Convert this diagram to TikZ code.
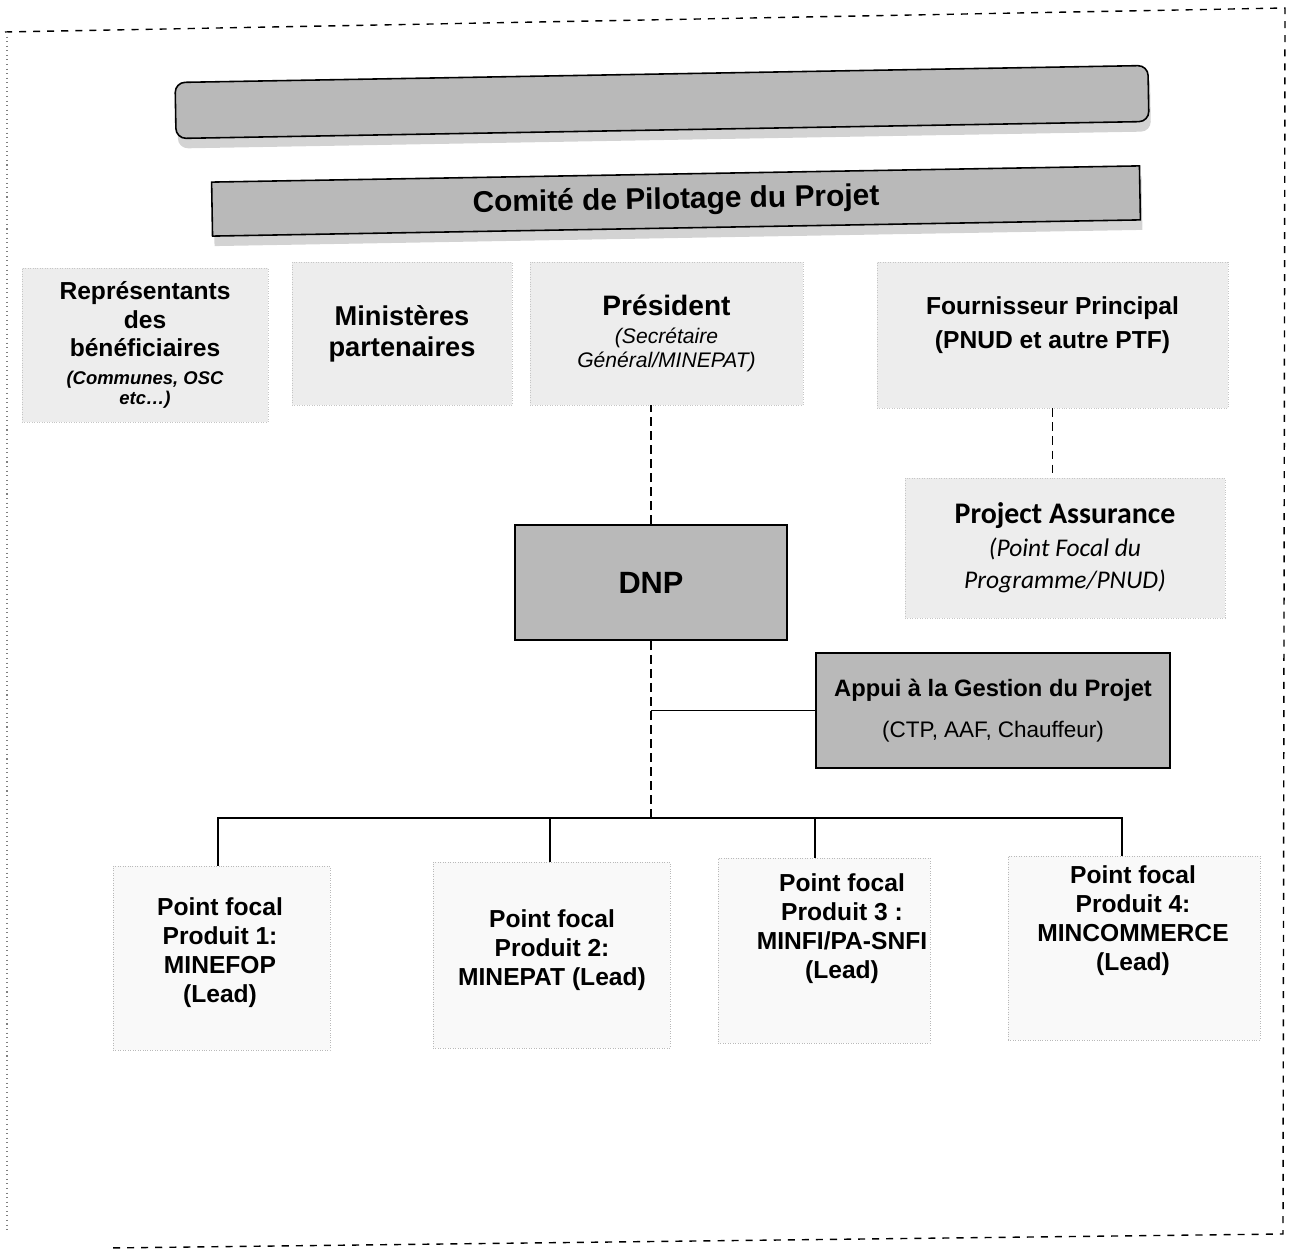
\documentclass[tikz,border=0pt]{standalone}
\usepackage{fontspec}
\setmainfont{Liberation Sans}
\newfontfamily\calibri{Carlito}
\usetikzlibrary{shadows,calc}
\newcommand\repsmall{\bfseries\itshape\fontsize{10.5}{11.5}\selectfont}
\newcommand\presit{\itshape\fontsize{12}{14}\selectfont}
\newcommand\pait{\itshape\fontsize{14.5}{18}\selectfont}
\newcommand\appuireg{\mdseries\fontsize{12.8}{15}\selectfont}
\tikzset{
  darkbox/.style={draw=black, line width=0.9pt, fill=gray!55, inner sep=0pt, align=center},
  barbox/.style={darkbox, rotate=1},
  lightbox/.style={draw=gray!45, densely dotted, fill=gray!14, inner sep=0pt, align=center},
  pfbox/.style={draw=gray!55, densely dotted, fill=gray!5, inner sep=0pt},
  pftext/.style={align=center, font=\bfseries\fontsize{14}{16.5}\selectfont},
  dashline/.style={line width=0.7pt, dash pattern=on 5pt off 3pt},
  solidline/.style={line width=1pt},
  frameline/.style={line width=0.8pt, dash pattern=on 4pt off 4pt},
  barshadow/.style={drop shadow={shadow xshift=0.04cm, shadow yshift=-0.2cm, opacity=0.35}},
}
\begin{document}
\begin{tikzpicture}
\useasboundingbox (0,0) rectangle (25.8,-25.04);
% outer frame
\draw[frameline] (0.1,-0.64) -- (25.7,-0.16) -- (25.66,-24.68) -- (2.16,-24.96);
\draw[gray, line width=0.6pt, dotted] (0.14,-0.64) -- (0.14,-24.6);

% top bars
\node[barbox, barshadow, rounded corners=0.2cm, minimum width=19.46cm, minimum height=1.12cm] (top) at (13.24,-2.04) {};
\node[barbox, barshadow, minimum width=18.56cm, minimum height=1.08cm,
      font=\bfseries\fontsize{17}{20}\selectfont] (comite) at (13.52,-4.02) {Comité de Pilotage du Projet};

% first row
\node[lightbox, minimum width=4.92cm, minimum height=3.08cm,
      font=\bfseries\fontsize{14}{16.2}\selectfont] (rep) at (2.9,-6.9)
  {Représentants\\des\\bénéficiaires\\[-0.5pt]\repsmall (Communes, OSC\\[-4.5pt]\repsmall etc…)};
\node[lightbox, minimum width=4.4cm, minimum height=2.86cm,
      font=\bfseries\fontsize{15.5}{17.6}\selectfont] (min) at (8.04,-6.67) {Ministères\\partenaires};
\node[lightbox, minimum width=5.46cm, minimum height=2.86cm,
      font=\fontsize{16}{18}\selectfont] (pres) at (13.33,-6.67)
  {\bfseries Président\\[-2pt]\presit (Secrétaire\\[-4pt]\presit Général/MINEPAT)};
\node[lightbox, minimum width=7.02cm, minimum height=2.92cm] (four) at (21.05,-6.7) {};
\node[align=center, font=\bfseries\fontsize{14}{19.5}\selectfont] (fourtext) at (21.05,-6.5)
  {Fournisseur Principal\\(PNUD et autre PTF)};

% project assurance
\node[lightbox, minimum width=6.4cm, minimum height=2.8cm,
      font=\calibri\fontsize{17}{19.8}\selectfont] (pa) at (21.3,-10.96)
  {\bfseries Project Assurance\\[-1pt]\pait (Point Focal du\\[-1.8pt]\pait Programme/PNUD)};

% DNP and Appui
\node[darkbox, minimum width=5.44cm, minimum height=2.3cm,
      font=\bfseries\fontsize{17.5}{20}\selectfont] (dnp) at (13.02,-11.65) {DNP};
\node[darkbox, minimum width=7.08cm, minimum height=2.3cm,
      font=\fontsize{13.5}{23}\selectfont] (appui) at (19.86,-14.21)
  {\bfseries Appui à la Gestion du Projet\\\appuireg (CTP, AAF, Chauffeur)};

% bottom boxes
\node[pfbox, minimum width=4.34cm, minimum height=3.68cm] (pf1) at (4.43,-19.16) {};
\node[pfbox, minimum width=4.74cm, minimum height=3.72cm] (pf2) at (11.03,-19.1) {};
\node[pfbox, minimum width=4.24cm, minimum height=3.7cm] (pf3) at (16.48,-19.01) {};
\node[pfbox, minimum width=5.04cm, minimum height=3.68cm] (pf4) at (22.68,-18.96) {};
\node[pftext] (t1) at (4.4,-19.06) {Point focal\\Produit 1:\\MINEFOP\\(Lead)};
\node[pftext] (t2) at (11.04,-19.0) {Point focal\\Produit 2:\\MINEPAT (Lead)};
\node[pftext] (t3) at (16.84,-18.58) {Point focal\\Produit 3 :\\MINFI/PA-SNFI\\(Lead)};
\node[pftext] (t4) at (22.66,-18.42) {Point focal\\Produit 4:\\MINCOMMERCE\\(Lead)};

% connectors
\draw[dashline] (dnp.north) -- (dnp.north |- pres.south);
\draw[dashline] (four.south) -- (four.south |- pa.north);
\coordinate (bus) at (13.06,-16.36);
\draw[dashline] (dnp.south) -- (dnp.south |- bus);
\draw[solidline] (dnp.south |- appui.west) -- (appui.west);
\draw[solidline] ([xshift=-0.07cm]pf1.north) |- (bus) -| ([xshift=-0.24cm]pf4.north);
\draw[solidline] ([xshift=-0.03cm]pf2.north) -- ([xshift=-0.03cm]pf2.north |- bus);
\draw[solidline] ([xshift=-0.18cm]pf3.north) -- ([xshift=-0.18cm]pf3.north |- bus);
\end{tikzpicture}
\end{document}
